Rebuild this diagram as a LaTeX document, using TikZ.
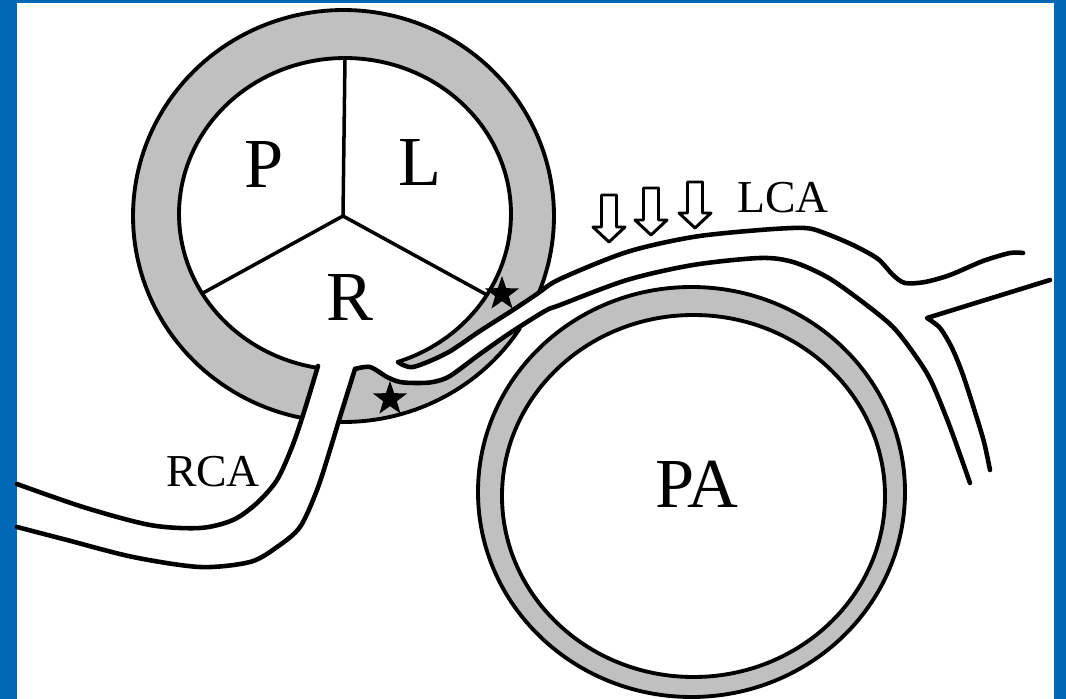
\documentclass[tikz,border=0pt]{standalone}
\usepackage{fontspec}
\setmainfont{Liberation Serif}
\usetikzlibrary{shapes.geometric}

\definecolor{frameblue}{RGB}{0,104,180}
\definecolor{wallgray}{RGB}{192,192,192}

\begin{document}
\begin{tikzpicture}[x=0.02cm, y=-0.02cm, line join=round, line cap=round,
    wall/.style={fill=wallgray},
    edge/.style={line width=2.2pt},
    cusp/.style={line width=2pt},
    vessel/.style={line width=2.6pt},
    bigletter/.style={font=\fontsize{40}{40}\selectfont, inner sep=0pt},
    smallletter/.style={font=\fontsize{26}{26}\selectfont, inner sep=0pt},
    hollowarrow/.style={line width=1.7pt, fill=white},
    starmark/.style={star, star points=5, star point ratio=2.5, fill=black, inner sep=0pt, minimum size=0.72cm}]

	% ==================== frame ====================
	\fill[frameblue] (0,0) rectangle (1066,699);
	\fill[white] (17,3) rectangle (1054,699);
	\useasboundingbox (0,0) rectangle (1066,699);

	% ==================== aortic root ====================
	\fill[wall] (343.5,216) ellipse (210.5 and 206);
	\fill[white] (345,214) ellipse (166 and 156);

	% ostium of the RCA cut through the wall
	\fill[white] plot[smooth] coordinates {(318,366) (304,412) (292,447) (277,480) (257,503) (233,520) (200,528) (150,525) (83,507) (17,484)}
		-- (17,527) -- plot[smooth] coordinates {(17,527) (67,540) (133,557) (200,567) (250,562) (277,547) (300,527) (317,490) (330,450) (340,417) (355,369)} -- cycle;

	% intramural course of the LCA
	\fill[white] plot[smooth] coordinates {(355,369) (370,367) (387,377) (400,382) (417,383) (433,382) (450,376) (480,354) (510,333) (545,311) (560,305) (580,297)}
		-- (580,270) -- plot[smooth] coordinates {(580,270) (560,279) (537,294) (513,310) (480,331) (447,353) (413,367) (398,362)} -- cycle;

	% wall outlines
	\draw[edge] plot[domain=101.4:382, samples=140] ({343.5+210.5*cos(\x)}, {216+206*sin(\x)});
	\draw[edge] plot[domain=33:91, samples=40] ({343.5+210.5*cos(\x)}, {216+206*sin(\x)});
	\draw[edge] plot[domain=99.7:431, samples=140] ({345+166*cos(\x)}, {214+156*sin(\x)});

	% commissures
	\coordinate (hub) at (343,216);
	\coordinate (comTop) at (345,58);
	\coordinate (comLeft) at (203,293);
	\coordinate (comRight) at (487,295);
	\draw[cusp] (hub) -- (comTop);
	\draw[cusp] (hub) -- (comLeft);
	\draw[cusp] (hub) -- (comRight);

	\node[bigletter] (cuspP) at (264,164) {P};
	\node[bigletter] (cuspL) at (420,162) {L};
	\node[bigletter] (cuspR) at (350,297) {R};

	% ==================== pulmonary artery ====================
	\fill[wall] (691.5,492) ellipse (213.5 and 205);
	\fill[white] (693.5,496) ellipse (191.5 and 181);
	\draw[edge] (691.5,492) ellipse (213.5 and 205);
	\draw[edge] (693.5,496) ellipse (191.5 and 181);
	\node[bigletter] (pa) at (697,484) {PA};

	% ==================== RCA ====================
	\draw[vessel] plot[smooth] coordinates {(318,366) (304,412) (292,447) (277,480) (257,503) (233,520) (200,528) (150,525) (83,507) (17,484)};
	\draw[vessel] plot[smooth] coordinates {(355,369) (340,417) (330,450) (317,490) (300,527) (277,547) (250,562) (200,567) (133,557) (67,540) (17,527)};
	\node[smallletter] (rca) at (213,472) {RCA};

	% ==================== LCA ====================
	\draw[vessel] plot[smooth] coordinates {(398,362) (413,367) (447,353) (480,331) (513,310) (537,294) (560,279) (627,252) (693,237) (760,230) (805,228) (827,234) (855,246) (878,259) (893,275) (905,283) (925,282) (950,275) (983,261) (1010,253) (1023,253)};
	\draw[vessel] plot[smooth] coordinates {(355,369) (370,367) (387,377) (400,382) (417,383) (433,382) (450,376) (480,354) (510,333) (545,311) (560,305) (627,280) (693,265) (760,258) (793,262) (827,277) (860,300) (893,327) (917,358) (932,383) (950,427) (970,483)};
	\draw[vessel] (1050,280) -- (927,318) -- plot[smooth] coordinates {(927,318) (940,328) (952,348) (963,375) (975,412) (984,442) (990,470)};
	\node[smallletter] (lca) at (783,198) {LCA};

	% compression arrows
	\foreach \ax/\ay/\az in {609/195/242, 651/188/235, 695/182/228}
		\draw[hollowarrow] (\ax-7.5,\ay) -- (\ax+7.5,\ay) -- (\ax+7.5,\az-15) -- (\ax+16,\az-15) -- (\ax,\az) -- (\ax-16,\az-15) -- (\ax-7.5,\az-15) -- cycle;

	% stars
	\node[starmark] (starL) at (502,294) {};
	\node[starmark] (starR) at (390,399) {};
\end{tikzpicture}
\end{document}
